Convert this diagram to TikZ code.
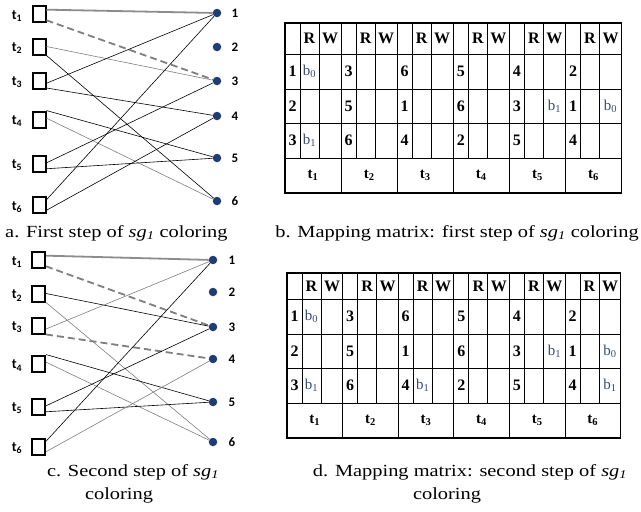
\documentclass[tikz,border=0pt]{standalone}
\usepackage{fontspec}
\setmainfont{Liberation Serif}
\newfontfamily\lblfont{Carlito}
\newfontfamily\capfont[FakeStretch=1.2]{Liberation Serif}
\definecolor{dotblue}{HTML}{1F3D73}
\definecolor{bcol}{HTML}{3A4A70}
\definecolor{egray}{HTML}{7F7F7F}
\tikzset{
  task/.style={draw=black, line width=2pt, fill=white, minimum width=13pt, minimum height=16pt, inner sep=0pt},
  res/.style={circle, fill=dotblue, minimum size=8.5pt, inner sep=0pt},
  tl/.style={font=\lblfont\bfseries\fontsize{14}{15}\selectfont, inner sep=0pt},
  rl/.style={font=\lblfont\bfseries\fontsize{13}{14}\selectfont, inner sep=0pt},
  eb/.style={line width=0.6pt, black},
  eg/.style={line width=0.6pt, egray},
  used/.style={line width=1.8pt, egray!90},
  cand/.style={line width=1.8pt, egray, dash pattern=on 7pt off 4pt},
  tline/.style={line width=0.9pt, black},
  touter/.style={line width=1.5pt, black},
  hd/.style={font=\bfseries\fontsize{16}{17}\selectfont, inner sep=0pt},
  num/.style={font=\bfseries\fontsize{16}{17}\selectfont, inner sep=0pt},
  bent/.style={font=\fontsize{15}{16}\selectfont, text=bcol, inner sep=0pt},
  tbot/.style={font=\bfseries\fontsize{15}{16}\selectfont, inner sep=0pt},
  captxt/.style={font=\capfont\fontsize{17}{20}\selectfont, inner sep=0pt},
}
% #1 name prefix, #2 left, #3 group width, #4..#9 row boundaries
\newcommand\mtable[9]{%
  \foreach \g in {0,...,5}{%
    \pgfmathsetmacro\xa{#2+\g*#3}%
    \pgfmathtruncatemacro\gi{\g+1}%
    \draw[tline] (\xa+15,#4) -- (\xa+15,#8);
    \draw[tline] (\xa+34,#4) -- (\xa+34,#8);
    \draw[tline] (\xa,#4) -- (\xa,#9);
    \node[hd] (#1R\gi) at (\xa+24.5,{(#4+#5)/2}) {R};
    \node[hd] (#1W\gi) at (\xa+45,{(#4+#5)/2}) {W};
    \node[tbot] (#1T\gi) at ({\xa+#3/2},{(#8+#9)/2}) {t\textsubscript{\gi}};
  }
  \foreach \yy in {#5,#6,#7,#8}{\draw[tline] (#2,\yy) -- ({#2+6*#3},\yy);}
  \draw[touter] (#2,#4) rectangle ({#2+6*#3},#9);
  \foreach \g/\p/\q/\r in {0/1/2/3,1/3/5/6,2/6/1/4,3/5/6/2,4/4/3/5,5/2/1/4}{%
    \pgfmathsetmacro\xa{#2+\g*#3}%
    \node[num] (#1n\g a) at (\xa+7.5,{(#5+#6)/2}) {\p};
    \node[num] (#1n\g b) at (\xa+7.5,{(#6+#7)/2}) {\q};
    \node[num] (#1n\g c) at (\xa+7.5,{(#7+#8)/2}) {\r};
  }
}
\begin{document}
\begin{tikzpicture}[x=1pt,y=-1pt]
\useasboundingbox (0,0) rectangle (641,512);
\fill[white] (0,0) rectangle (641,512);

% ---------- graph a ----------
\foreach \i/\y in {1/14,2/46.5,3/80.5,4/119.5,5/163.5,6/205}{
  \node[task] (a\i) at (39,\y) {};
  \node[tl] (at\i) at (17,\y+2) {t\textsubscript{\i}};
}
\foreach \i/\y in {1/13,2/47,3/81,4/116,5/158,6/201}{
  \node[res] (ar\i) at (217,\y) {};
  \node[rl] (an\i) at (235,\y) {\i};
}
\draw[used] (a1.30) -- (ar1);
\draw[cand] (a1.-40) -- (ar3);
\draw[eg] (a2.east) -- (ar3);
\draw[eb] (a2.south east) -- (ar6);
\draw[eb] (a3.-20) -- (ar1);
\draw[eb] (a3.-45) -- (ar4);
\draw[eb] (a4.50) -- (ar5);
\draw[eg] (a4.10) -- (ar6);
\draw[eb] (a5.5) -- (ar3);
\draw[eb] (a5.-35) -- (ar5);
\draw[eb] (a6.35) -- (ar1);
\draw[eb] (a6.-35) -- (ar4);

% ---------- graph c ----------
\foreach \i/\y in {1/260,2/293.5,3/325.5,4/363.5,5/406.5,6/446.5}{
  \node[task] (c\i) at (38.5,\y) {};
  \node[tl] (ct\i) at (17,\y+2) {t\textsubscript{\i}};
}
\foreach \i/\y in {1/260,2/292,3/327,4/359,5/402,6/442}{
  \node[res] (cr\i) at (213,\y) {};
  \node[rl] (cn\i) at (232,\y) {\i};
}
\draw[used] (c1.30) -- (cr1);
\draw[cand] (c1.-40) -- (cr3);
\draw[eb] (c2.east) -- (cr3);
\draw[eg] (c2.south east) -- (cr6);
\draw[eg] (c3.-25) -- (cr1);
\draw[cand] (c3.-50) -- (cr4);
\draw[eb] (c4.50) -- (cr5);
\draw[eg] (c4.10) -- (cr6);
\draw[eb] (c5.5) -- (cr3);
\draw[eb] (c5.-35) -- (cr5);
\draw[eb] (c6.35) -- (cr1);
\draw[eg] (c6.-35) -- (cr4);

% ---------- tables ----------
\mtable{b}{285}{56.1}{23}{54}{89}{123}{158}{193}
\mtable{d}{287}{55.6}{273}{299}{334}{368}{403}{438}

% b entries, table b
\node[bent] (bb1) at (285+24.5,71.5) {b\textsubscript{0}};
\node[bent] (bb2) at (285+24.5,140.5) {b\textsubscript{1}};
\node[bent] (bb3) at (285+4*56.1+45,106) {b\textsubscript{1}};
\node[bent] (bb4) at (285+5*56.1+45,106) {b\textsubscript{0}};
% b entries, table d
\node[bent] (db1) at (287+24.5,316.5) {b\textsubscript{0}};
\node[bent] (db2) at (287+24.5,385.5) {b\textsubscript{1}};
\node[bent] (db3) at (287+2*55.6+24.5,385.5) {b\textsubscript{1}};
\node[bent] (db4) at (287+4*55.6+45,351) {b\textsubscript{1}};
\node[bent] (db5) at (287+5*55.6+45,351) {b\textsubscript{0}};
\node[bent] (db6) at (287+5*55.6+45,385.5) {b\textsubscript{1}};

% ---------- captions ----------
\node[captxt, anchor=west] (capa) at (5,233) {a. First step of \textit{sg\textsubscript{1}} coloring};
\node[captxt, anchor=east] (capb) at (639,233) {b. Mapping matrix: first step of \textit{sg\textsubscript{1}} coloring};
\node[captxt] (capc1) at (133,472) {c. Second step of \textit{sg\textsubscript{1}}};
\node[captxt] (capc2) at (119,495) {coloring};
\node[captxt] (capd1) at (470,472) {d. Mapping matrix: second step of \textit{sg\textsubscript{1}}};
\node[captxt] (capd2) at (447,495) {coloring};
\end{tikzpicture}
\end{document}
